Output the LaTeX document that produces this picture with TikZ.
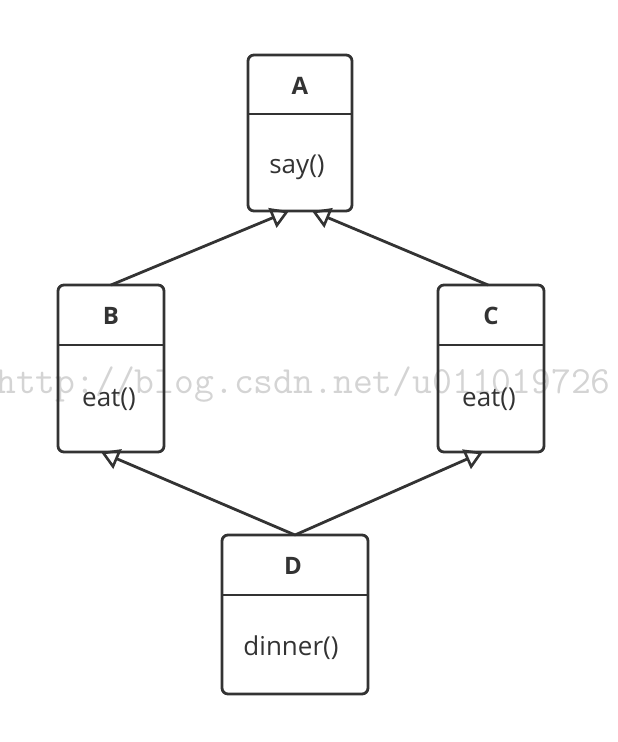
\documentclass[tikz,border=0pt]{standalone}
\usepackage{fontspec}
\setmainfont{Open Sans}
\newfontfamily\wmfont{Latin Modern Mono}
\usetikzlibrary{arrows.meta,calc}
\definecolor{ink}{RGB}{51,51,51}
\definecolor{wm}{RGB}{212,212,212}
\tikzset{
  umlbox/.style={draw=ink, line width=2.8pt, rounded corners=6pt, outer sep=0pt, inner sep=0pt},
  divider/.style={draw=ink, line width=2.8pt},
  titletext/.style={font=\fontsize{24}{27}\selectfont\bfseries, text=ink},
  bodytext/.style={font=\fontsize{26}{30}\selectfont, text=ink},
  inherit/.style={draw=ink, line width=2.8pt, -{Triangle[open, length=18pt, width=21pt, line width=2.6pt]}},
}
\begin{document}
\begin{tikzpicture}[x=1pt, y=-1pt]
\useasboundingbox (0,0) rectangle (618,742);
% watermark
\node[anchor=base west, inner sep=0pt, text=wm, font=\wmfont\fontsize{38.5}{41}\selectfont] (wm) at (-4,393) {http://blog.csdn.net/u011019726};
% boxes
\node[umlbox, minimum width=104pt, minimum height=156pt] (A) at (300,133) {};
\node[umlbox, minimum width=106pt, minimum height=167pt] (B) at (111,368.5) {};
\node[umlbox, minimum width=106pt, minimum height=167pt] (C) at (491,368.5) {};
\node[umlbox, minimum width=146pt, minimum height=159pt] (D) at (295,614.5) {};
% dividers
\draw[divider] (A.west |- 0,114) -- (A.east |- 0,114);
\draw[divider] (B.west |- 0,345) -- (B.east |- 0,345);
\draw[divider] (C.west |- 0,345) -- (C.east |- 0,345);
\draw[divider] (D.west |- 0,595) -- (D.east |- 0,595);
% texts
\node[titletext] (At) at (300,86) {A};
\node[bodytext] (Ab) at (297,167) {say()};
\node[titletext] (Bt) at (111,316) {B};
\node[bodytext] (Bb) at (109,399) {eat()};
\node[titletext] (Ct) at (491,316) {C};
\node[bodytext] (Cb) at (489,399) {eat()};
\node[titletext] (Dt) at (293,566) {D};
\node[bodytext] (Db) at (291,648) {dinner()};
% connectors
\coordinate (Aleft) at ($(A.south)+(-11,0)$);
\coordinate (Aright) at ($(A.south)+(12,0)$);
\coordinate (Bin) at ($(B.south)+(-10,0)$);
\coordinate (Cin) at ($(C.south)+(-8,0)$);
\draw[inherit] (B.north) -- (Aleft);
\draw[inherit] (C.north -| 488,0) -- (Aright);
\draw[inherit] (D.north) -- (Bin);
\draw[inherit] (D.north) -- (Cin);
\end{tikzpicture}
\end{document}
